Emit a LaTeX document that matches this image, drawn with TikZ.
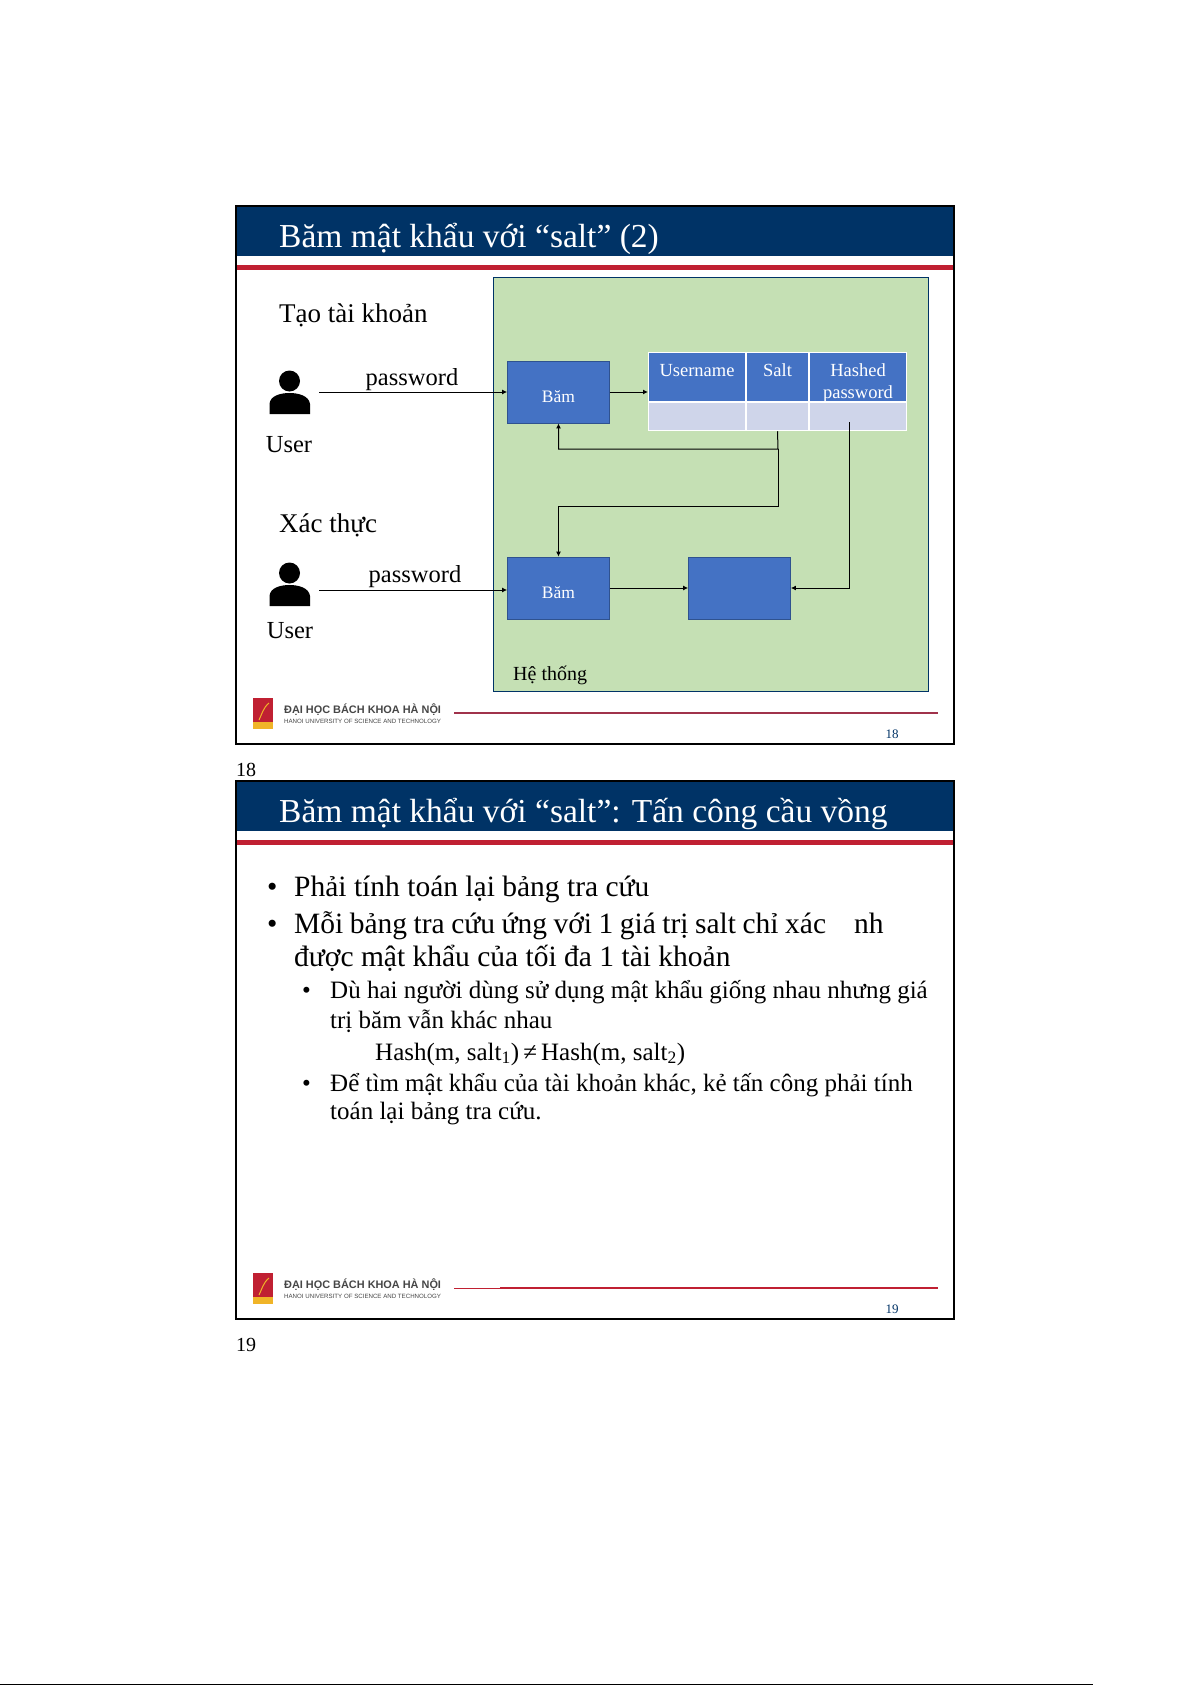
\documentclass[tikz,border=0pt]{standalone}
\usepackage{fontspec}
\setmainfont{Liberation Serif}
\setsansfont{Liberation Sans}
\usepackage{xcolor}
\usetikzlibrary{arrows.meta, positioning, calc}
\definecolor{titlenavy}{RGB}{0,51,102}
\definecolor{redbar}{RGB}{192,32,50}
\definecolor{duskred}{RGB}{160,50,75}
\definecolor{sysgreen}{RGB}{197,224,180}
\definecolor{hashblue}{RGB}{68,114,196}
\definecolor{hashedge}{RGB}{47,82,143}
\definecolor{cellpale}{RGB}{207,213,234}
\definecolor{footgray}{RGB}{70,70,70}
\definecolor{logogold}{RGB}{240,180,40}
\newcommand{\fsz}[1]{\fontsize{#1}{#1}\selectfont}

\begin{document}
\begin{tikzpicture}[
    x=1pt,y=-1pt,
    frame/.style={draw=black,line width=2pt,fill=white},
    band/.style={fill=titlenavy,draw=none},
    redline/.style={fill=redbar,draw=none},
    title/.style={anchor=base west,text=white,inner sep=0pt,font=\fsz{33.5}},
    lbl/.style={anchor=base west,inner sep=0pt,font=\fsz{27}},
    small/.style={anchor=base,inner sep=0pt,font=\fsz{24.5}},
    hashbox/.style={draw=hashedge,fill=hashblue,line width=0.8pt,minimum width=102pt,minimum height=62pt,
      text=white,inner sep=0pt,font=\fsz{17.5},text height=22pt,text depth=2pt},
    headcell/.style={draw=white,fill=hashblue,line width=1pt,minimum height=49.5pt,text=white,
      inner sep=0pt,font=\fsz{18.5},text height=12pt,text depth=14pt},
    valcell/.style={draw=white,fill=cellpale,line width=1pt,minimum height=28.5pt,inner sep=0pt},
    arrow/.style={-{Latex[length=5pt,width=5pt]},line width=1pt},
    bodyA/.style={anchor=base west,inner sep=0pt,font=\fsz{29.5}},
    bodyB/.style={anchor=base west,inner sep=0pt,font=\fsz{25}},
    foot/.style={anchor=base west,inner sep=0pt,text=footgray,font=\sffamily\bfseries\fsz{10.9}},
    footsub/.style={anchor=base west,inner sep=0pt,text=footgray,font=\sffamily\fsz{6.15}},
    pagenum/.style={anchor=base,inner sep=0pt,text=titlenavy,font=\fsz{13}},
    slidenum/.style={anchor=base west,inner sep=0pt,font=\fsz{20}}
  ]
  \useasboundingbox (0,0) rectangle (1192,1685);
  \fill[white] (0,0) rectangle (1192,1685);
  \fill[black] (0,1683.5) rectangle (1093,1685);

  % slide 18
  \draw[frame] (236,206) rectangle (954,744);
  \fill[band] (237,206) rectangle (953,256);
  \fill[redline] (237,265) rectangle (953,270);
  \draw[line width=2.6pt] (236,206) -- (954,206);
  \node[title] (titleA) at (279,248) {Băm mật khẩu với “salt” (2)};

  \draw[draw=titlenavy,fill=sysgreen,line width=0.8pt] (493,277) rectangle (928,691);

  \node[lbl] (taoTk) at (279,323) {Tạo tài khoản};
  \node[lbl] (xacThuc) at (279,532) {Xác thực};
  \node[small] (pwA) at (412,385) {password};
  \node[small] (pwB) at (415,582) {password};
  \node[small] (userA) at (289,452) {User};
  \node[small] (userB) at (290,638) {User};
  \node[anchor=base west,inner sep=0pt,font=\fsz{20}] (heThong) at (513,680) {Hệ thống};

  % user icons
  \foreach \py in {0,192}{
    \fill (289.5,381+\py) circle (10.5);
    \fill (269.5,414+\py) -- (269.5,404+\py) .. controls (270,396+\py) and (280,393+\py) .. (289.5,393+\py)
      .. controls (299,393+\py) and (309,396+\py) .. (310,404+\py) -- (310,414+\py) -- cycle;
  }

  \node[hashbox] (bamA) at (558.5,392) {Băm};
  \node[hashbox] (bamB) at (558.5,588) {Băm};
  \node[hashbox] (cmpBox) at (739.5,588) {};

  \node[headcell,minimum width=97pt] (cellUser) at (697,377) {Username};
  \node[headcell,minimum width=62pt] (cellSalt) at (777.5,377) {Salt};
  \node[headcell,minimum width=97pt,text height=44pt,text depth=2pt] (cellHash) at (858,377)
    {\parbox[b]{90pt}{\centering\baselineskip=22pt Hashed\\password}};
  \node[valcell,minimum width=97pt] (valUser) at (697,416.5) {};
  \node[valcell,minimum width=62pt] (valSalt) at (777.5,416.5) {};
  \node[valcell,minimum width=97pt] (valHash) at (858,416.5) {};

  \coordinate (startA) at (319,392);
  \coordinate (startB) at (319,590);
  \coordinate (turnA) at (778,449);
  \coordinate (turnB) at (778,506);
  \coordinate (hashStart) at (849.5,422);

  \draw[arrow] (startA) -- (bamA.west);
  \draw[arrow] (startB) -- (bamB.west |- startB);
  \draw[arrow] (bamA.east) -- (cellUser.west |- bamA.east);
  \draw[arrow] (bamB.east) -- (cmpBox.west);
  \draw[arrow] (valSalt.south) -- (turnA) -| (bamA.south);
  \draw[arrow] (turnA) -- (turnB) -| (bamB.north);
  \draw[arrow] (hashStart) |- (cmpBox.east);

  % footer 18
  \fill[redbar] (253,698) rectangle (273,722);
  \fill[logogold] (253,722) rectangle (273,729);
  \draw[logogold,line width=1pt] (269,703) .. controls (263,708) and (262,714) .. (259,720);
  \node[foot] (uniA) at (284,713) {ĐẠI HỌC BÁCH KHOA HÀ NỘI};
  \node[footsub] (uniSubA) at (284,723) {HANOI UNIVERSITY OF SCIENCE AND TECHNOLOGY};
  \draw[line width=1.4pt,color=duskred] (454,713) -- (938,713);
  \node[pagenum] (pageA) at (892,738) {18};
  \node[slidenum] (numA) at (236,776) {18};

  % slide 19
  \draw[frame] (236,781) rectangle (954,1319);
  \fill[band] (237,781) rectangle (953,831);
  \fill[redline] (237,840) rectangle (953,845);
  \draw[line width=2.6pt] (236,781) -- (954,781);
  \node[title] (titleB) at (279,822.5) {Băm mật khẩu với “salt”: Tấn công cầu vồng};

  \node[bodyA] (dotA) at (267,896) {•};
  \node[bodyA] (lineA) at (294,896) {Phải tính toán lại bảng tra cứu};
  \node[bodyA] (dotB) at (267,933) {•};
  \node[bodyA] (lineB) at (294,933) {\spaceskip=0.22em Mỗi bảng tra cứu ứng với 1 giá trị salt chỉ xác\hspace{28pt}nh};
  \node[bodyA] (lineC) at (294,966) {được mật khẩu của tối đa 1 tài khoản};
  \node[bodyB] (dotD) at (302,998) {•};
  \node[bodyB] (lineD) at (330,998) {Dù hai người dùng sử dụng mật khẩu giống nhau nhưng giá};
  \node[bodyB] (lineE) at (330,1028) {trị băm vẫn khác nhau};
  \node[bodyB] (lineF) at (375,1060) {Hash(m, salt\textsubscript{1})\,≠\,Hash(m, salt\textsubscript{2})};
  \node[bodyB] (dotG) at (302,1091) {•};
  \node[bodyB] (lineG) at (330,1091) {Để tìm mật khẩu của tài khoản khác, kẻ tấn công phải tính};
  \node[bodyB] (lineH) at (330,1119) {toán lại bảng tra cứu.};

  % footer 19
  \fill[redbar] (253,1273) rectangle (273,1297);
  \fill[logogold] (253,1297) rectangle (273,1304);
  \draw[logogold,line width=1pt] (269,1278) .. controls (263,1283) and (262,1289) .. (259,1295);
  \node[foot] (uniB) at (284,1288) {ĐẠI HỌC BÁCH KHOA HÀ NỘI};
  \node[footsub] (uniSubB) at (284,1298) {HANOI UNIVERSITY OF SCIENCE AND TECHNOLOGY};
  \draw[line width=0.8pt,color=redbar] (454,1288.3) -- (500,1288.3);
  \draw[line width=1.4pt,color=redbar] (500,1288) -- (938,1288);
  \node[pagenum] (pageB) at (892,1313) {19};
  \node[slidenum] (numB) at (236,1351) {19};
\end{tikzpicture}
\end{document}
